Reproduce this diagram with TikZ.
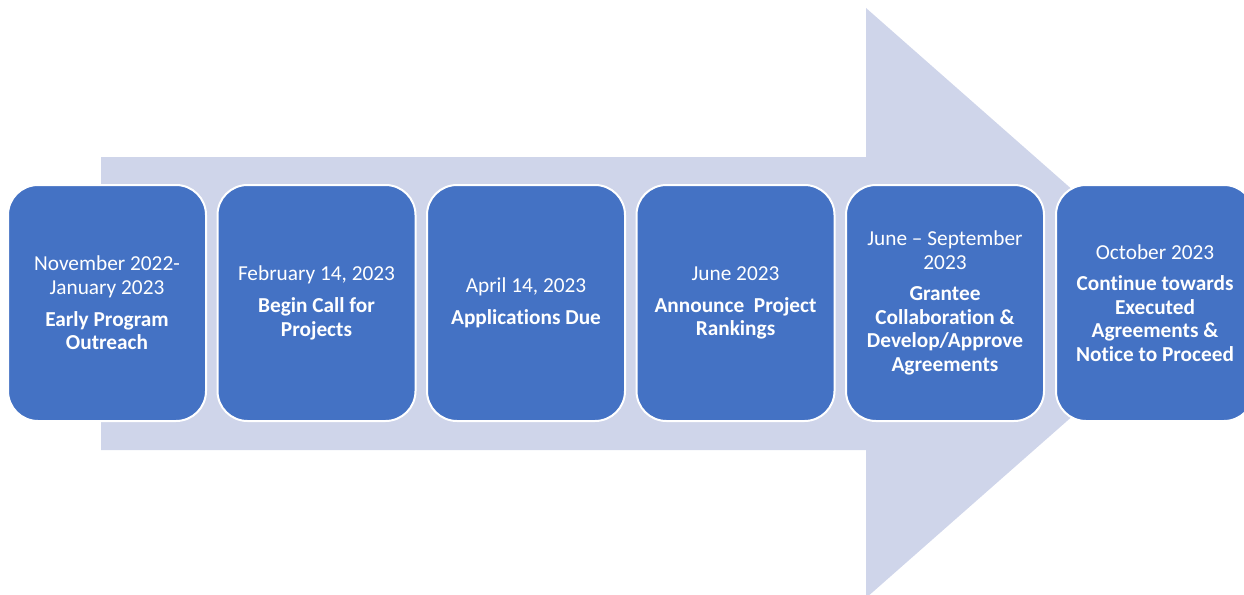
\documentclass[tikz,border=0pt]{standalone}
\usepackage{fontspec}
\setmainfont{Carlito}[Ligatures={NoCommon}]
\definecolor{boxblue}{HTML}{4472C4}
\definecolor{arrowlav}{HTML}{CFD5EA}
\begin{document}
\begin{tikzpicture}[x=1pt,y=-1pt,
  stepbox/.style={draw=white, line width=2pt, fill=boxblue, rounded corners=30pt,
    minimum width=198pt, minimum height=236pt, inner sep=0pt, text=white,
    align=center, font=\fontsize{21.3}{23.6}\selectfont}]
\useasboundingbox (0,0) rectangle (1244,594);
\fill[arrowlav] (101,157) -- (866,157) -- (866,8) -- (1201,303) -- (866,598) -- (866,450) -- (101,450) -- cycle;
\node[stepbox] (b1) at (107,303) {November 2022-\\January 2023\\[8pt]\textbf{Early Program}\\\textbf{Outreach}};
\node[stepbox] (b2) at (316.5,303) {February 14, 2023\\[8pt]\textbf{Begin Call for}\\\textbf{Projects}};
\node[stepbox] (b3) at (526,303) {April 14, 2023\\[8pt]\textbf{Applications Due}};
\node[stepbox] (b4) at (735.5,303) {June 2023\\[8pt]\textbf{Announce\ \ Project}\\\textbf{Rankings}};
\node[stepbox] (b5) at (945,303) {June -- September\\2023\\[8pt]\textbf{Grantee}\\\textbf{Collaboration \&}\\\textbf{Develop/Approve}\\\textbf{Agreements}};
\node[stepbox] (b6) at (1155,303) {October 2023\\[8pt]\textbf{Continue towards}\\\textbf{Executed}\\\textbf{Agreements \&}\\\textbf{Notice to Proceed}};
\end{tikzpicture}
\end{document}
